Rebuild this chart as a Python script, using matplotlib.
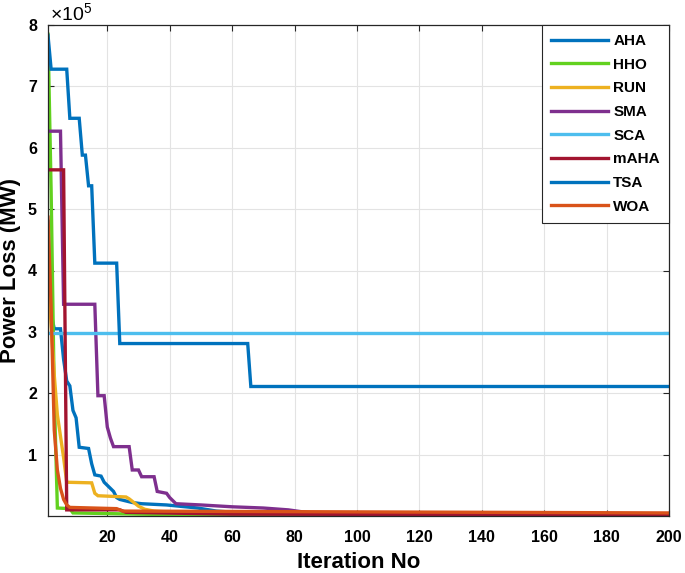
import numpy as np
import matplotlib
matplotlib.use('Agg')
import matplotlib.pyplot as plt

plt.rcParams['font.family'] = ['Liberation Sans', 'DejaVu Sans']
plt.rcParams['mathtext.fontset'] = 'custom'
plt.rcParams['mathtext.rm'] = 'Liberation Sans'

# Convergence data: (iteration, best power loss in units of 1e5 MW)
aha_it  = [1, 2, 3, 5, 6, 7, 8, 9, 10, 11, 14, 15, 16, 18, 19, 20, 21, 22, 23, 24, 28, 31, 39, 45, 49, 55, 70, 200]
aha_val = [4.8, 3.3, 3.05, 3.05, 2.55, 2.2, 2.12, 1.72, 1.6, 1.12, 1.1, 0.85, 0.67, 0.65, 0.55, 0.5, 0.45, 0.4, 0.3, 0.27, 0.22, 0.2, 0.18, 0.15, 0.13, 0.08, 0.03, 0.01]

hho_it  = [1, 2, 3, 4, 8, 9, 30, 60, 200]
hho_val = [7.85, 5.3, 2.0, 0.13, 0.12, 0.05, 0.03, 0.01, 0.005]

run_it  = [1, 2, 3, 4, 5, 6, 7, 15, 16, 17, 26, 27, 28, 30, 32, 35, 45, 70, 200]
run_val = [3.95, 3.1, 2.3, 1.65, 1.3, 0.95, 0.55, 0.54, 0.37, 0.33, 0.31, 0.28, 0.24, 0.16, 0.11, 0.08, 0.05, 0.03, 0.02]

sma_it  = [1, 5, 6, 16, 17, 19, 20, 21, 22, 27, 28, 30, 31, 35, 36, 39, 40, 42, 50, 60, 70, 78, 85, 100, 200]
sma_val = [6.27, 6.27, 3.45, 3.45, 1.96, 1.96, 1.45, 1.27, 1.13, 1.13, 0.75, 0.75, 0.64, 0.64, 0.4, 0.37, 0.3, 0.2, 0.18, 0.15, 0.13, 0.1, 0.05, 0.03, 0.02]

sca_it  = [1, 200]
sca_val = [2.98, 2.98]

maha_it  = [1, 6, 7, 24, 26, 60, 200]
maha_val = [5.64, 5.64, 0.1, 0.1, 0.06, 0.03, 0.02]

tsa_it  = [1, 2, 7, 8, 11, 12, 13, 14, 15, 16, 23, 24, 65, 66, 200]
tsa_val = [7.83, 7.28, 7.28, 6.48, 6.48, 5.88, 5.88, 5.38, 5.38, 4.12, 4.12, 2.81, 2.81, 2.11, 2.11]

woa_it  = [1, 2, 3, 4, 5, 6, 7, 8, 23, 25, 200]
woa_val = [4.87, 3.4, 1.4, 0.75, 0.45, 0.27, 0.18, 0.14, 0.12, 0.08, 0.05]

labels = ['AHA', 'HHO', 'RUN', 'SMA', 'SCA', 'mAHA', 'TSA', 'WOA']
colors = ['#0072BD', '#62D11F', '#EDB120', '#7E2F8E', '#4DBEEE', '#A2142F', '#0072BD', '#D95319']
series = [(aha_it, aha_val), (hho_it, hho_val), (run_it, run_val), (sma_it, sma_val),
          (sca_it, sca_val), (maha_it, maha_val), (tsa_it, tsa_val), (woa_it, woa_val)]

xticks = [20, 40, 60, 80, 100, 120, 140, 160, 180, 200]
yticks = [1, 2, 3, 4, 5, 6, 7, 8]

fig = plt.figure(figsize=(6.85, 5.73), dpi=100)
ax = fig.add_axes([48/685, 1-516/573, (669-48)/685, (516-25)/573])

for (it, val), lab, col in zip(series, labels, colors):
    ax.plot(it, val, color=col, lw=2.4, label=lab, solid_joinstyle='miter')

ax.set_xlim(1, 200)
ax.set_ylim(0, 8)
ax.set_xticks(xticks)
ax.set_yticks(yticks)
ax.set_xticklabels([str(t) for t in xticks], fontweight='bold', fontsize=11.5)
ax.set_yticklabels([str(t) for t in yticks], fontweight='bold', fontsize=11.5)
ax.tick_params(axis='x', pad=10)
ax.tick_params(axis='y', pad=8)
ax.tick_params(direction='in', length=4.5, width=0.8, top=True, right=True,
               color='#262626')
ax.grid(True, color='#e3e3e3', lw=0.8)
ax.set_axisbelow(True)
for s in ax.spines.values():
    s.set_color('#262626')
    s.set_linewidth(0.9)

ax.set_xlabel('Iteration No', fontsize=16, fontweight='bold', labelpad=5)
ax.set_ylabel('Power Loss (MW)', fontsize=16, fontweight='bold', labelpad=5)

fig.text(50/685, 1-21/573, r'$\times10^{5}$', fontsize=14, va='baseline', ha='left')

leg = ax.legend(loc='upper right', bbox_to_anchor=(1, 1), borderaxespad=0,
                fancybox=False, framealpha=1, edgecolor='#262626',
                prop={'weight': 'bold', 'size': 11}, handlelength=3.7,
                handletextpad=0.35, labelspacing=0.63, borderpad=0.6)
leg.get_frame().set_linewidth(0.8)

fig.savefig('out.png', dpi=100)
